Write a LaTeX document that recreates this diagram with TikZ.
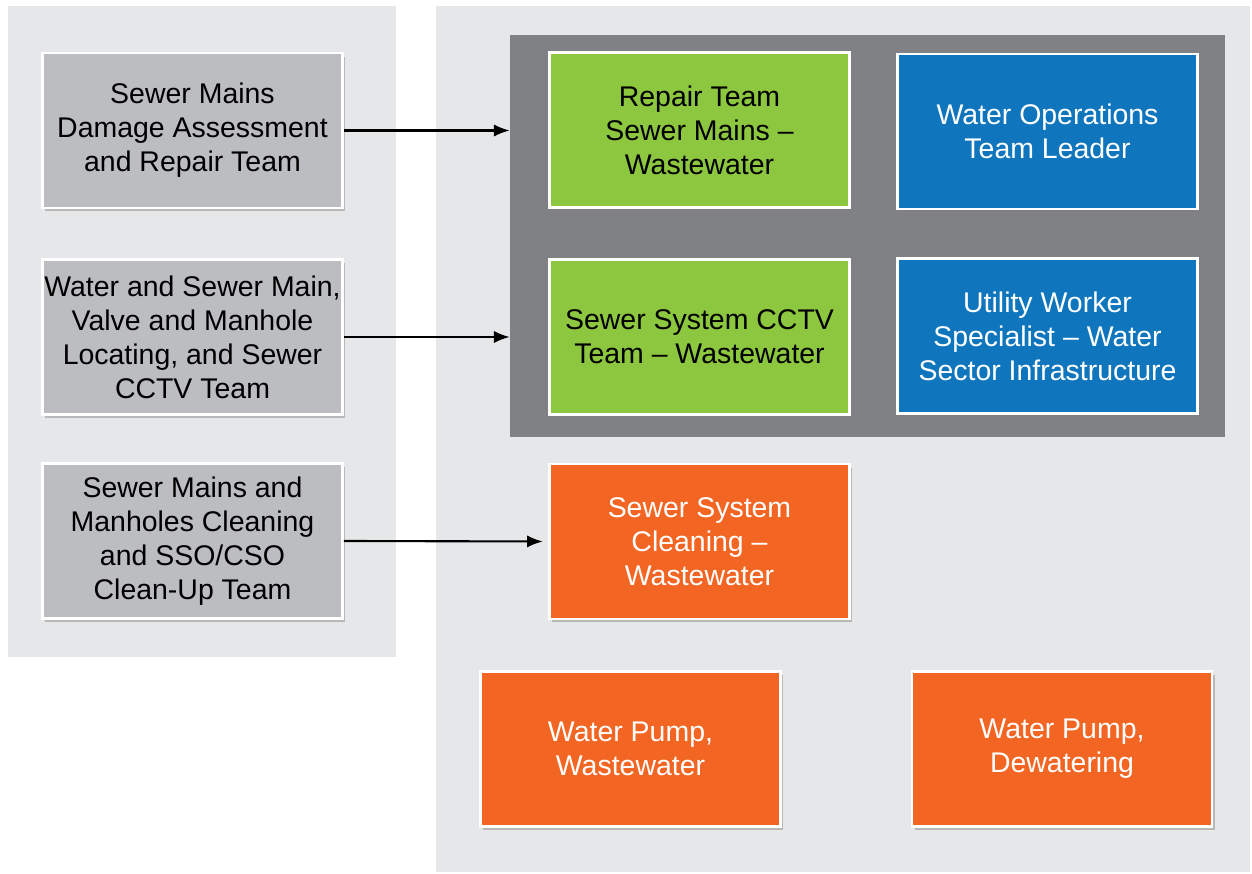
\documentclass[tikz,border=0pt]{standalone}
\usepackage{fontspec}
\setmainfont{Liberation Sans}
\usepackage{tikz}
\usetikzlibrary{
	arrows.meta,
	positioning,
	shadows,
}
\definecolor{panelgray}{HTML}{E6E7E8}
\definecolor{teamgray}{HTML}{808184}
\definecolor{boxgray}{HTML}{BCBDC0}
\definecolor{teamgreen}{HTML}{8DC63F}
\definecolor{teamblue}{HTML}{0F75BC}
\definecolor{teamorange}{HTML}{F26522}

\begin{document}
\begin{tikzpicture}[x=0.02cm, y=-0.02cm,
		every node/.style={font=\fontsize{16.2}{19.4}\selectfont, align=center},
		team/.style={rectangle, draw=white, line width=1.6pt, minimum width=6cm, minimum height=3.1cm,
			inner xsep=1pt, drop shadow={shadow xshift=1.5pt, shadow yshift=-2pt, opacity=0.45}},
		graybox/.style={team, fill=boxgray, text=black},
		greenbox/.style={team, fill=teamgreen, text=black},
		bluebox/.style={team, fill=teamblue, text=white},
		orangebox/.style={team, fill=teamorange, text=white},
		link/.style={-{Latex[length=9pt, width=7pt]}, line width=1.2pt, black},
	]
			\useasboundingbox (0,0) rectangle (1252,874);
			% background panels
			\fill[panelgray] (8,6) rectangle (396,657);
			\fill[panelgray] (436,6) rectangle (1250,872);
			\node[fill=teamgray, minimum width=14.3cm, minimum height=8.04cm, inner sep=0pt] (teams) at (867.5,236) {};
			% resource typing teams
			\node[graybox] (damage) at (192.5,130.5) {Sewer Mains\\Damage Assessment\\and Repair Team};
			\node[graybox] (locating) at (192.5,337) {Water and Sewer Main,\\Valve and Manhole\\Locating, and Sewer\\CCTV Team};
			\node[graybox] (cleanup) at (192.5,541) {Sewer Mains and\\Manholes Cleaning\\and SSO/CSO\\Clean-Up Team};
			% positions
			\node[greenbox] (repair) at (699.5,130) {Repair Team\\Sewer Mains --\\Wastewater};
			\node[bluebox] (waterops) at (1047.5,131.5) {Water Operations\\Team Leader};
			\node[greenbox] (cctv) at (699.5,337) {Sewer System CCTV\\Team -- Wastewater};
			\node[bluebox] (utility) at (1047.5,336) {Utility Worker\\Specialist -- Water\\Sector Infrastructure};
			\node[orangebox] (cleaning) at (699.5,541.5) {Sewer System\\Cleaning --\\Wastewater};
			\node[orangebox] (pumpww) at (630.5,749) {Water Pump,\\Wastewater};
			\node[orangebox] (dewater) at (1062,749) {Water Pump,\\Dewatering};
			% links
			\draw[link] (damage.east) -- (damage.east -| teams.west);
			\draw[link] (locating.east) -- (locating.east -| teams.west);
			\draw[link, shorten >=3pt] (cleanup.east) -- (cleaning.west);
		\end{tikzpicture}
\end{document}
